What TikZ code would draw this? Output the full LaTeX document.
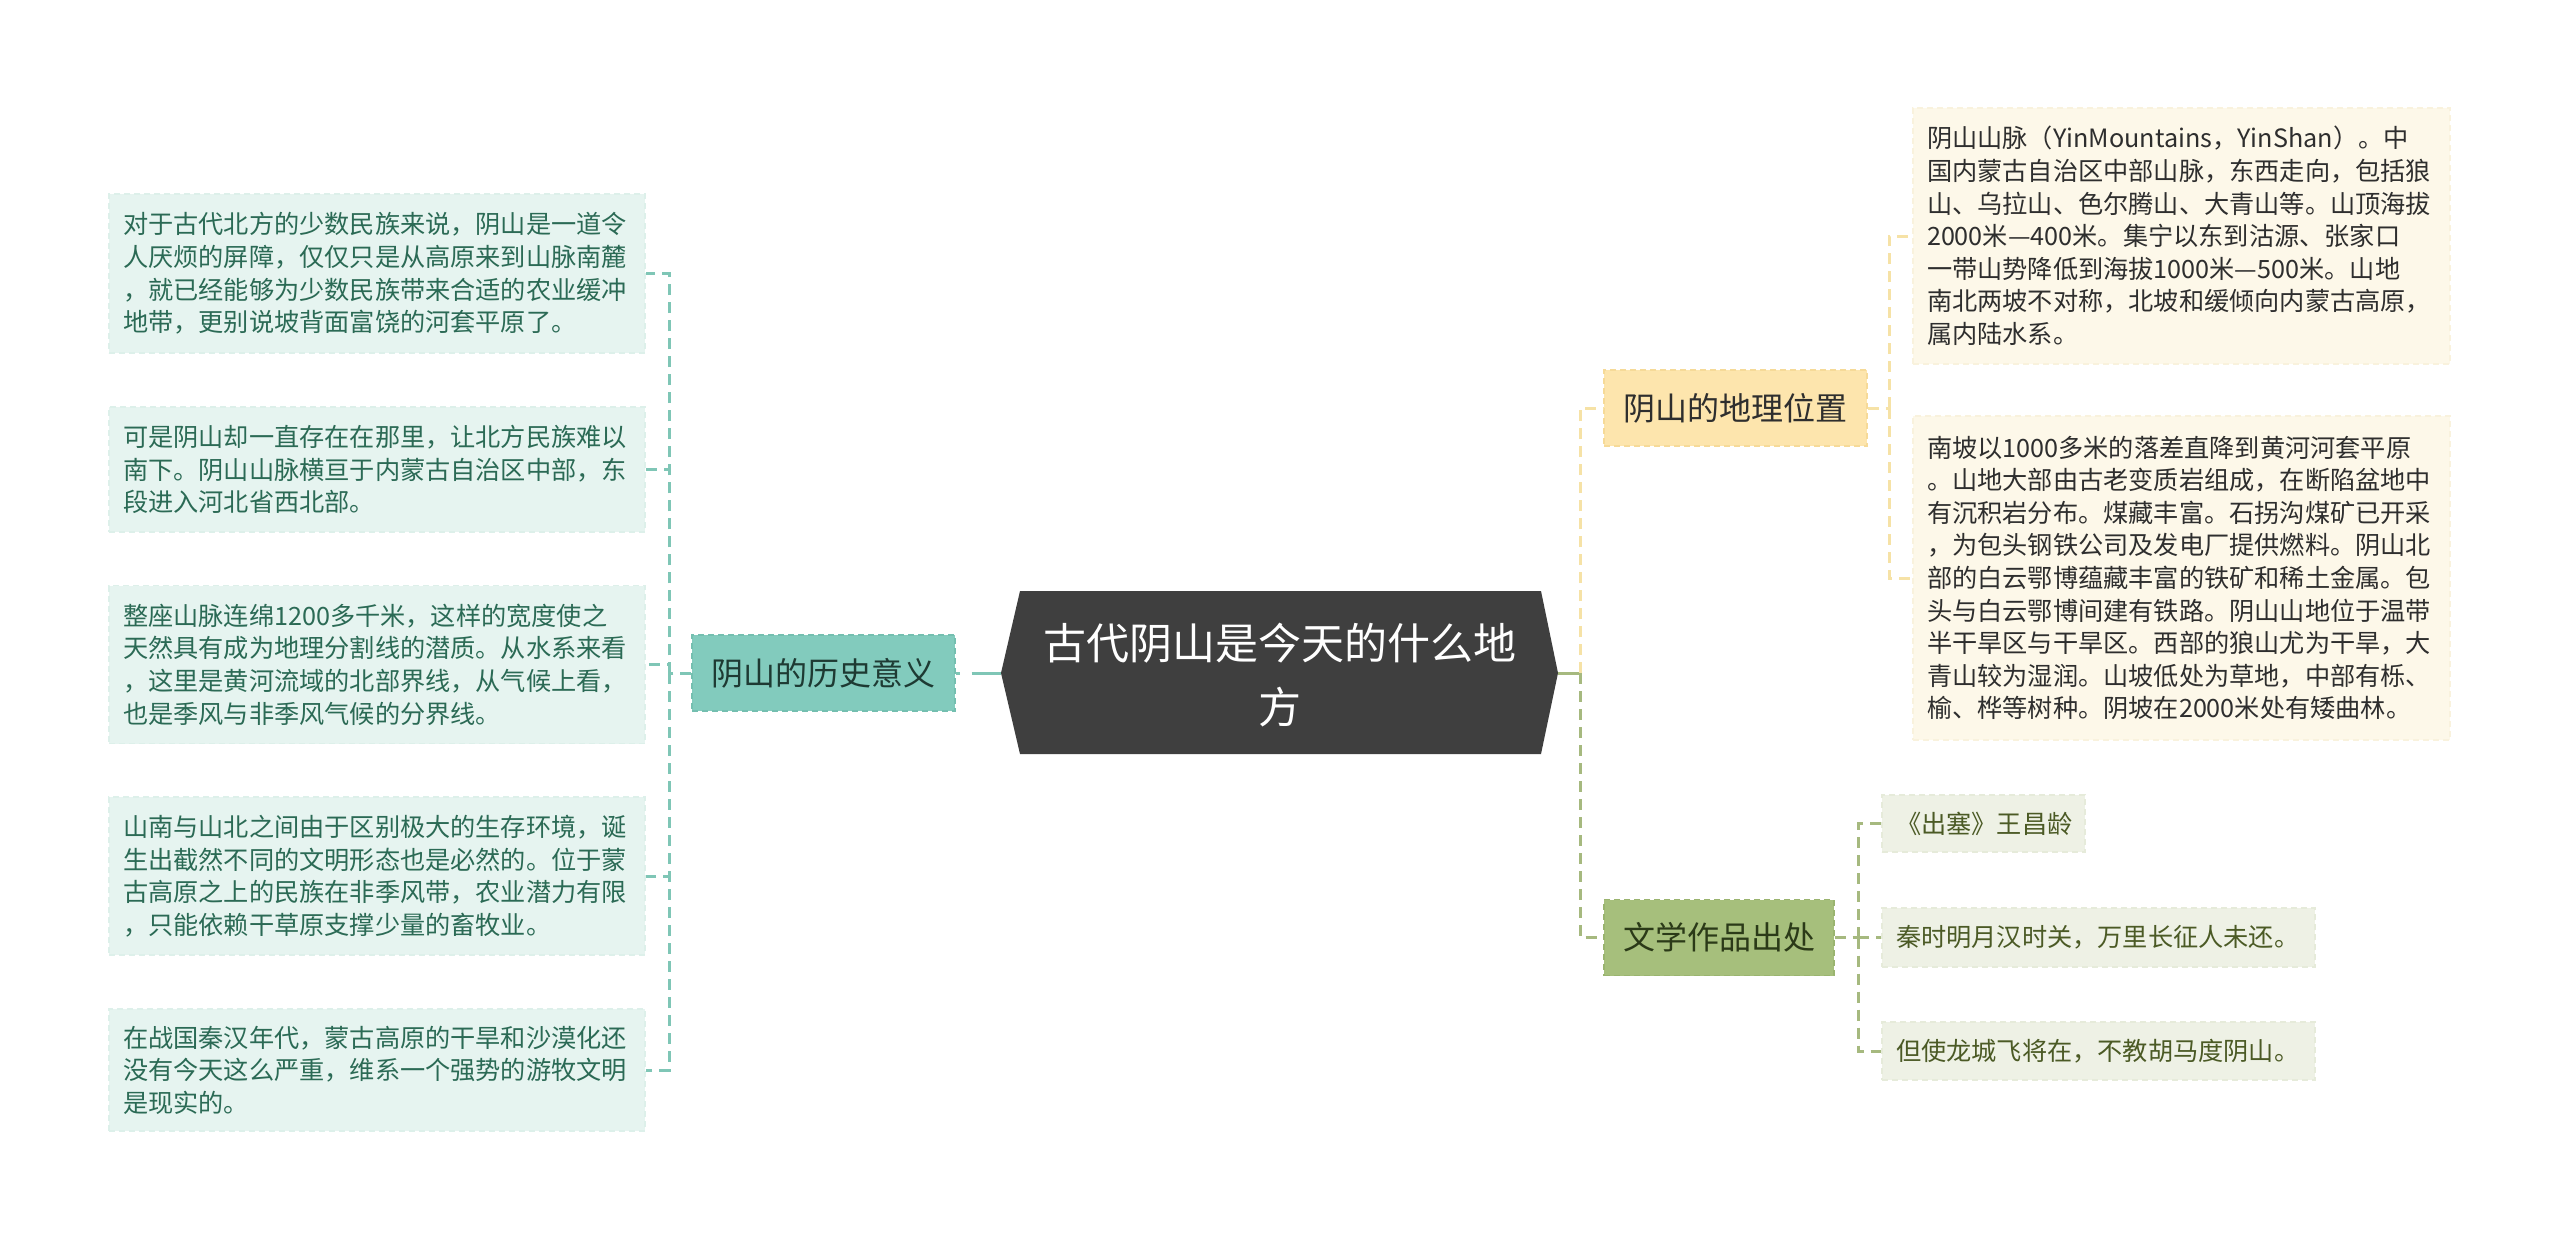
\documentclass[tikz,border=0pt]{standalone}
\usepackage{fontspec}
\setmainfont{Noto Sans CJK SC}
\definecolor{centerfill}{HTML}{3F3F3F}
\definecolor{histfill}{HTML}{82CBBD}
\definecolor{histedge}{HTML}{74BFB0}
\definecolor{histtext}{HTML}{1E3A33}
\definecolor{lleaffill}{HTML}{E6F4F0}
\definecolor{lleafedge}{HTML}{DDF0EA}
\definecolor{lleaftext}{HTML}{2B6A55}
\definecolor{lconn}{HTML}{7FC6B6}
\definecolor{geofill}{HTML}{FDE5AD}
\definecolor{geoedge}{HTML}{F6DA98}
\definecolor{geotext}{HTML}{2E2E2E}
\definecolor{rleaffill}{HTML}{FDF8E9}
\definecolor{rleafedge}{HTML}{F9F2DD}
\definecolor{rleaftext}{HTML}{2E2E2E}
\definecolor{yconn}{HTML}{F6E2A6}
\definecolor{litfill}{HTML}{A6BF7C}
\definecolor{litedge}{HTML}{9AB46F}
\definecolor{littext}{HTML}{2B3A18}
\definecolor{gleaffill}{HTML}{EEF1E5}
\definecolor{gleafedge}{HTML}{E6EBDA}
\definecolor{gleaftext}{HTML}{4B5A25}
\definecolor{gconn}{HTML}{A6B97F}
\newcommand\leaffont{\fontsize{12.6pt}{16.3pt}\selectfont}
\newcommand\branchfont{\fontsize{16pt}{20pt}\selectfont}
\newcommand\centerfont{\fontsize{21.5pt}{32pt}\selectfont}
\begin{document}
\begin{tikzpicture}[x=0.5pt,y=-0.5pt,
  box/.style={rectangle, inner ysep=0pt, anchor=center, line width=0.7pt, dash pattern=on 3pt off 2pt},
  lleaf/.style={box, fill=lleaffill, draw=lleafedge, text=lleaftext, text width=254pt, inner xsep=7pt, align=left, font=\leaffont},
  rleaf/.style={box, fill=rleaffill, draw=rleafedge, text=rleaftext, text width=254.5pt, inner xsep=7pt, align=left, font=\leaffont},
  gleaf/.style={box, fill=gleaffill, draw=gleafedge, text=gleaftext, inner xsep=7pt, align=left, font=\leaffont},
  branch/.style={box, align=center, font=\branchfont, minimum height=38pt},
  conn/.style={line width=1.5pt, dash pattern=on 5.5pt off 3.5pt},
]
\useasboundingbox (0,0) rectangle (2560,1243);
\fill[white] (0,0) rectangle (2560,1243);

% center topic
\coordinate (cl) at (1001,673);
\coordinate (cr) at (1558,673);
\fill[centerfill] (cl) -- (1020,591) -- (1541,591) -- (cr) -- (1541,754) -- (1020,754) -- cycle;
\node[text=white, font=\centerfont, align=center] (center) at (1280,675) {古代阴山是今天的什么地\\方};

% left branch
\node[branch, fill=histfill, draw=histedge, text=histtext, minimum width=131.5pt] (hist) at (823.5,673) {阴山的历史意义};

\node[lleaf, minimum height=79.5pt] (L1) at (377,273.5) {对于古代北方的少数民族来说，阴山是一道令\\人厌烦的屏障，仅仅只是从高原来到山脉南麓\\，就已经能够为少数民族带来合适的农业缓冲\\地带，更别说坡背面富饶的河套平原了。};
\node[lleaf, minimum height=62.5pt] (L2) at (377,469.5) {可是阴山却一直存在在那里，让北方民族难以\\南下。阴山山脉横亘于内蒙古自治区中部，东\\段进入河北省西北部。};
\node[lleaf, minimum height=79pt] (L3) at (377,664.5) {整座山脉连绵1200多千米，这样的宽度使之\\天然具有成为地理分割线的潜质。从水系来看\\，这里是黄河流域的北部界线，从气候上看，\\也是季风与非季风气候的分界线。};
\node[lleaf, minimum height=79pt] (L4) at (377,876) {山南与山北之间由于区别极大的生存环境，诞\\生出截然不同的文明形态也是必然的。位于蒙\\古高原之上的民族在非季风带，农业潜力有限\\，只能依赖干草原支撑少量的畜牧业。};
\node[lleaf, minimum height=61pt] (L5) at (377,1070) {在战国秦汉年代，蒙古高原的干旱和沙漠化还\\没有今天这么严重，维系一个强势的游牧文明\\是现实的。};

\coordinate (lbus) at (669,673);
\draw[lconn, line width=1.5pt, dash pattern=on 2pt off 6pt on 40pt off 0pt] (hist.east) -- (cl);
\draw[lconn, conn] (hist.west) -- (lbus);
\foreach \n in {L1,L2,L3,L4,L5} \draw[lconn, conn] (lbus) |- (\n.east);

% right upper branch
\node[branch, fill=geofill, draw=geoedge, text=geotext, minimum width=131.5pt] (geo) at (1735.5,408) {阴山的地理位置};
\node[rleaf, minimum height=128pt] (R1) at (2181.5,236) {阴山山脉（YinMountains，YinShan）。中\\国内蒙古自治区中部山脉，东西走向，包括狼\\山、乌拉山、色尔腾山、大青山等。山顶海拔\\2000米—400米。集宁以东到沽源、张家口\\一带山势降低到海拔1000米—500米。山地\\南北两坡不对称，北坡和缓倾向内蒙古高原，\\属内陆水系。};
\node[rleaf, minimum height=162pt] (R2) at (2181.5,578) {南坡以1000多米的落差直降到黄河河套平原\\。山地大部由古老变质岩组成，在断陷盆地中\\有沉积岩分布。煤藏丰富。石拐沟煤矿已开采\\，为包头钢铁公司及发电厂提供燃料。阴山北\\部的白云鄂博蕴藏丰富的铁矿和稀土金属。包\\头与白云鄂博间建有铁路。阴山山地位于温带\\半干旱区与干旱区。西部的狼山尤为干旱，大\\青山较为湿润。山坡低处为草地，中部有栎、\\榆、桦等树种。阴坡在2000米处有矮曲林。};

% right lower branch
\node[branch, fill=litfill, draw=litedge, text=littext, minimum width=115pt] (lit) at (1719,937.5) {文学作品出处};
\node[gleaf, text width=87.5pt, minimum height=28.5pt] (G1) at (1983.5,823.5) {《出塞》王昌龄};
\node[gleaf, text width=202.5pt, minimum height=29.5pt] (G2) at (2098.5,937.5) {秦时明月汉时关，万里长征人未还。};
\node[gleaf, text width=202.5pt, minimum height=29pt] (G3) at (2098.5,1051) {但使龙城飞将在，不教胡马度阴山。};

% right connectors
\coordinate (rbus) at (1580,673);
\draw[gconn, line width=1.5pt] (cr) -- (rbus);
\draw[yconn, conn] (rbus) |- (geo.west);
\draw[gconn, conn] (rbus) |- (lit.west);

\coordinate (gbus) at (1889,408);
\draw[yconn, conn] (geo.east) -- (gbus);
\draw[yconn, conn] (gbus) |- (R1.west);
\draw[yconn, conn] (gbus) |- (R2.west);

\coordinate (tbus) at (1858,937.5);
\draw[gconn, conn] (lit.east) -- (tbus);
\foreach \n in {G1,G2,G3} \draw[gconn, conn] (tbus) |- (\n.west);
\end{tikzpicture}
\end{document}
